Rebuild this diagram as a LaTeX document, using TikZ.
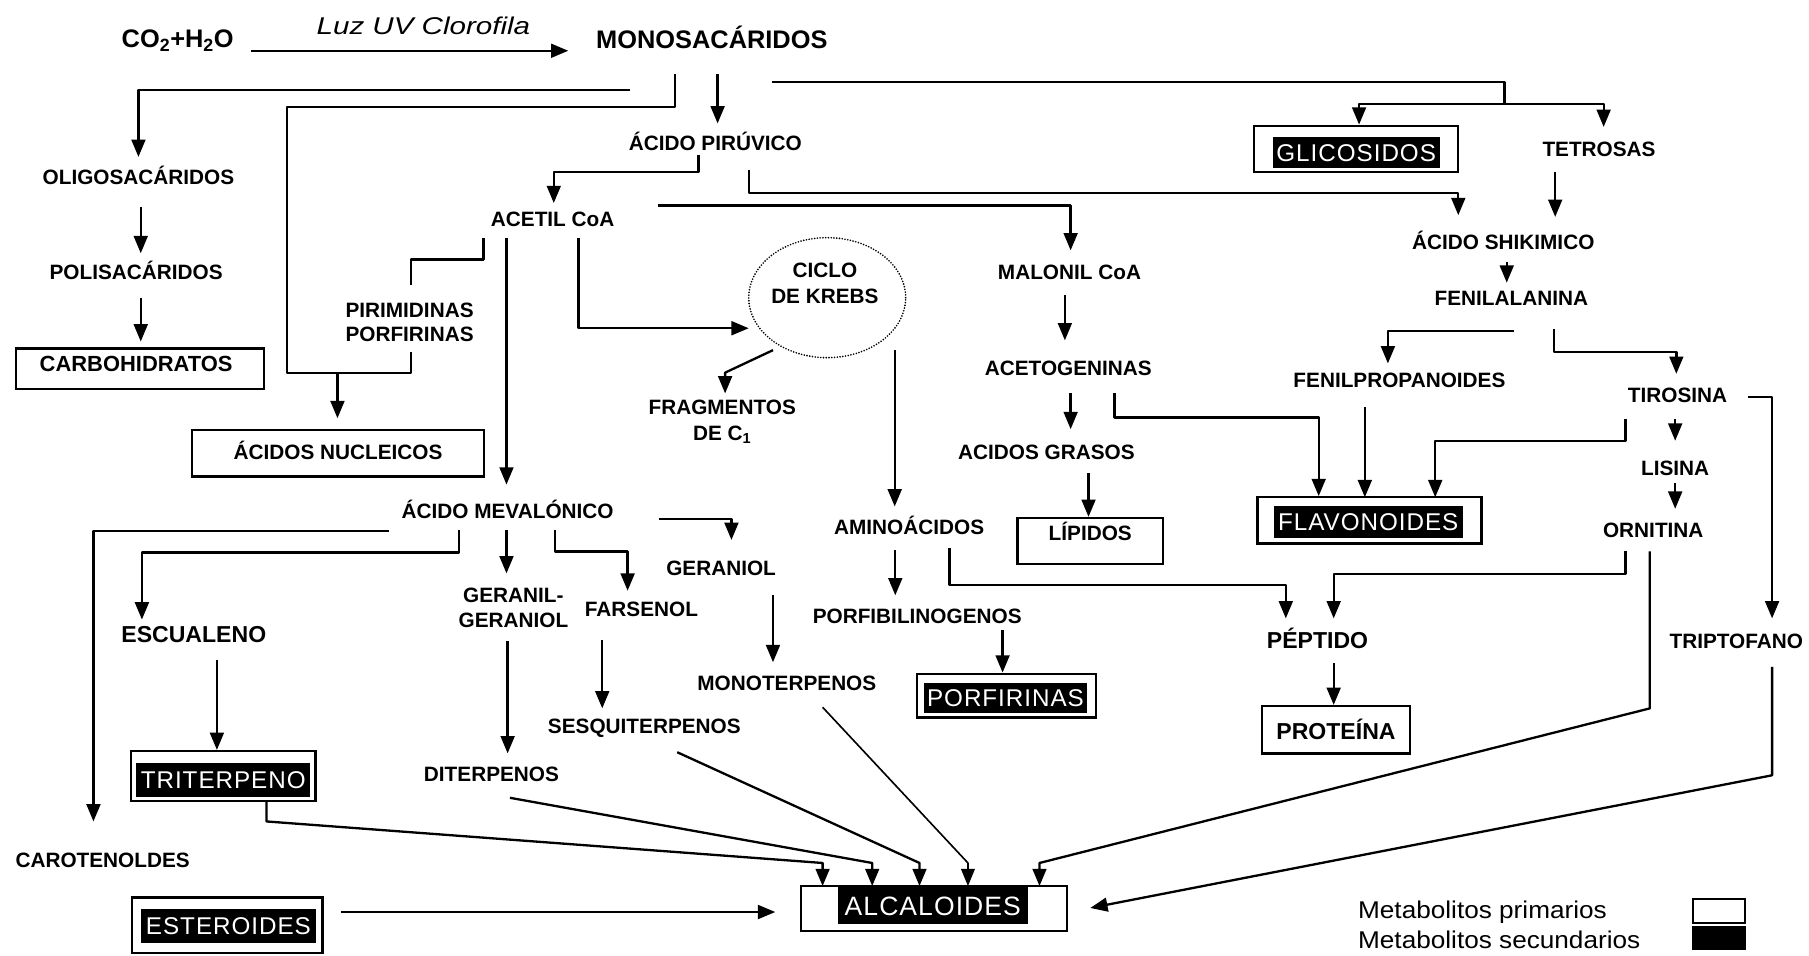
\documentclass[tikz,border=0pt]{standalone}
\usepackage{fontspec}
\usepackage{graphicx}
\setmainfont{Liberation Sans}
\newfontfamily\secf[LetterSpace=4]{Liberation Sans}
\usetikzlibrary{arrows.meta,calc,shapes.geometric}
\newcommand\myfs[1]{\fontsize{#1}{#1}\selectfont}
\begin{document}
\begin{tikzpicture}[x=1pt,y=-1pt,
  lbl/.style={font=\myfs{18}\bfseries, inner sep=0pt, text height=13pt, text depth=0pt, anchor=center},
  lbl2/.style={font=\fontsize{18}{22}\selectfont\bfseries, inner sep=0pt, align=center},
  ln/.style={line width=2pt, line join=round},
  arr/.style={line width=2pt, line join=round, -{Triangle[length=15pt,width=12pt]}},
  pbox/.style={draw, line width=2pt, inner sep=0pt},
  sbox/.style={draw, line width=2pt, inner sep=0pt},
  band/.style={fill=black, text=white, font=\secf\myfs{21}, inner sep=0pt, text height=15pt, text depth=0pt},
]
\fill[white] (0,0) rectangle (1568,828);
\useasboundingbox (0,0) rectangle (1568,828);

% ---------- nodes ----------
\node[lbl, font=\myfs{22}\bfseries, text height=16pt] (co2) at (154,33) {CO\textsubscript{2}+H\textsubscript{2}O};
\node[inner sep=0pt, font=\myfs{21}\itshape, text height=15pt, text depth=0pt] (luz) at (367,22) {\scalebox{1.22}[1]{Luz UV Clorofila}};
\node[lbl, font=\myfs{22}\bfseries, text height=16pt] (mono) at (617,34) {MONOSACÁRIDOS};

\node[lbl] (pir) at (620,124) {ÁCIDO PIRÚVICO};
\node[lbl] (oligo) at (120,153) {OLIGOSACÁRIDOS};
\node[lbl] (poli) at (118,236) {POLISACÁRIDOS};
\node[pbox, minimum width=215pt, minimum height=35pt] (carbo) at (121.5,319.5) {};
\node[lbl, font=\myfs{19}\bfseries, text height=13.6pt] (carbot) at (118,315) {CARBOHIDRATOS};

\node[sbox, minimum width=177pt, minimum height=40pt] (glic) at (1175.5,129) {};
\node[band, minimum width=145pt, minimum height=27pt] (glict) at (1175.5,132.5) {GLICOSIDOS};
\node[lbl] (tetr) at (1386,129) {TETROSAS};

\node[lbl] (acetil) at (479,190) {ACETIL CoA};
\node[lbl] (shik) at (1303,210) {ÁCIDO SHIKIMICO};
\node[lbl] (fenil) at (1310,258) {FENILALANINA};
\node[lbl] (malo) at (927,236) {MALONIL CoA};

\node[draw, ellipse, line width=1.6pt, line cap=round, dash pattern=on 0pt off 2.4pt, minimum width=136pt, minimum height=104pt, inner sep=0pt] (krebs) at (717,258) {};
\node[lbl2, font=\fontsize{18}{23}\selectfont\bfseries] (krebst) at (715,245.5) {CICLO\\DE KREBS};

\node[lbl2, font=\fontsize{18}{21}\selectfont\bfseries] (pirim) at (355,279.5) {PIRIMIDINAS\\PORFIRINAS};
\node[pbox, minimum width=253pt, minimum height=40pt] (nucl) at (293,393) {};
\node[lbl] (nuclt) at (293,392) {ÁCIDOS NUCLEICOS};

\node[lbl2, font=\fontsize{18}{23}\selectfont\bfseries] (frag) at (626,365.5) {FRAGMENTOS\\DE C\textsubscript{1}};

\node[lbl] (aceto) at (926,319) {ACETOGENINAS};
\node[lbl] (grasos) at (907,392) {ACIDOS GRASOS};
\node[pbox, minimum width=126pt, minimum height=40pt] (lip) at (945,469) {};
\node[lbl] (lipt) at (945,462) {LÍPIDOS};

\node[lbl] (fenprop) at (1213,329) {FENILPROPANOIDES};
\node[lbl] (tiro) at (1454,342) {TIROSINA};
\node[lbl] (lisina) at (1452,406) {LISINA};
\node[lbl] (orni) at (1433,459) {ORNITINA};
\node[sbox, minimum width=194pt, minimum height=40pt] (flav) at (1187,451) {};
\node[band, minimum width=164pt, minimum height=27pt] (flavt) at (1186,452.5) {FLAVONOIDES};

\node[lbl] (mev) at (440,443) {ÁCIDO MEVALÓNICO};
\node[lbl] (amino) at (788,457) {AMINOÁCIDOS};
\node[lbl] (geraniol) at (625,492) {GERANIOL};
\node[lbl2] (gergr) at (445,527) {GERANIL-\\GERANIOL};
\node[lbl] (fars) at (556,528) {FARSENOL};
\node[lbl, font=\myfs{20}\bfseries, text height=14.3pt] (escu) at (168,550) {ESCUALENO};
\node[lbl] (porfib) at (795,534) {PORFIBILINOGENOS};
\node[lbl, font=\myfs{20}\bfseries, text height=14.3pt] (pept) at (1142,555) {PÉPTIDO};
\node[lbl] (trip) at (1505,556) {TRIPTOFANO};

\node[sbox, minimum width=155pt, minimum height=38pt] (porfbox) at (872.5,603) {};
\node[band, minimum width=141pt, minimum height=26pt] (porft) at (871.5,605) {PORFIRINAS};
\node[pbox, minimum width=128pt, minimum height=41pt] (prot) at (1158,632.5) {};
\node[lbl, font=\myfs{20}\bfseries, text height=14.3pt] (prott) at (1158,634) {PROTEÍNA};

\node[lbl] (monot) at (682,592) {MONOTERPENOS};
\node[lbl] (sesq) at (558.5,629) {SESQUITERPENOS};
\node[sbox, minimum width=160pt, minimum height=43pt] (trit) at (193.5,672.5) {};
\node[band, minimum width=151pt, minimum height=30pt] (tritt) at (193.5,676) {TRITERPENO};
\node[lbl] (dit) at (426,671) {DITERPENOS};
\node[lbl] (caro) at (89,745) {CAROTENOLDES};
\node[sbox, minimum width=165pt, minimum height=48pt] (ester) at (197,802) {};
\node[band, minimum width=152pt, minimum height=29pt] (estert) at (198,802.5) {ESTEROIDES};
\node[sbox, minimum width=231pt, minimum height=39pt] (alc) at (809.5,787.5) {};
\node[band, font=\secf\myfs{23}, text height=16.5pt, minimum width=165pt, minimum height=32pt] (alct) at (808.5,785) {ALCALOIDES};

% legend
\node[anchor=west, inner sep=0pt, font=\myfs{21}, text height=15pt, text depth=0pt] (leg1) at (1177,789) {\scalebox{1.08}[1]{Metabolitos primarios}};
\node[anchor=west, inner sep=0pt, font=\myfs{21}, text height=15pt, text depth=0pt] (leg2) at (1177,815) {\scalebox{1.08}[1]{Metabolitos secundarios}};
\node[draw, line width=1.6pt, minimum width=45pt, minimum height=21pt, inner sep=0pt] (legp) at (1490,789.5) {};
\node[fill=black, minimum width=46.5pt, minimum height=21pt, inner sep=0pt] (legs) at (1490,813) {};

% ---------- connectors ----------
\draw[arr] ($(co2)+(63.5,11)$) -- ($(mono)+(-124.4,10)$);
\draw[arr] ($(mono)+(-71,44)$) -| ($(oligo)+(0,-17)$);
\draw[ln] ($(mono)+(-32,30)$) |- (249,92.5) |- ($(pirim)+(1,44)$) -- ($(pirim)+(1,25.5)$);
\draw[arr] ($(nucl)+(-0.5,-69.5)$) -- ($(nucl)+(-0.5,-30.5)$);
\draw[arr] ($(mono)+(5,30)$) -- ($(pir)+(2,-17)$);
\draw[ln] ($(mono)+(52,37)$) -| ($(glic)+(128.5,-39)$);
\draw[arr] ($(glic)+(128.5,-39)$) -| ($(glic)+(2.5,-21)$);
\draw[arr] ($(glic)+(128.5,-39)$) -| ($(tetr)+(4,-19)$);

\draw[arr] ($(oligo)+(2,26)$) -- ($(poli)+(4,-16.5)$);
\draw[arr] ($(poli)+(4,22)$) -- ($(carbo)+(0.5,-23.5)$);

\draw[arr] ($(pir)+(-14.5,10)$) |- ($(acetil)+(1,-41)$) -- ($(acetil)+(1,-14)$);
\draw[arr] ($(pir)+(29,23)$) |- ($(shik)+(-39,-43)$) -- ($(shik)+(-39,-23.5)$);
\draw[arr] ($(tetr)+(-38,20)$) -- ($(shik)+(45,-22)$);
\draw[arr] ($(shik)+(3,17)$) -- ($(fenil)+(-4,-13)$);

\draw[arr] ($(acetil)+(91,-12)$) -| ($(malo)+(1,-19)$);
\draw[ln] ($(acetil)+(-60,16.5)$) |- ($(pirim)+(1,-54.5)$) -- ($(pirim)+(1,-32.5)$);
\draw[arr] ($(acetil)+(-40,16)$) -- ($(mev)+(-1,-23)$);
\draw[arr] ($(acetil)+(22.5,16)$) |- ($(krebs)+(-68,26.5)$);
\draw[arr] ($(krebs)+(-47,45.5)$) -- ($(frag)+(2.5,-42.5)$) -- ($(frag)+(2.5,-24.5)$);
\draw[arr] ($(krebs)+(58.5,45.5)$) -- ($(amino)+(-12.5,-18)$);

\draw[arr] ($(malo)+(-4,20)$) -- ($(aceto)+(-3,-24)$);
\draw[arr] ($(aceto)+(2,22)$) -- ($(grasos)+(21,-20)$);
\draw[arr] ($(aceto)+(40,22)$) |- ($(flav)+(-44,-89)$) -- ($(flav)+(-44,-21)$);
\draw[arr] ($(grasos)+(36.5,18)$) -- ($(lip)+(-1.5,-21)$);

\draw[arr] ($(fenil)+(2,29)$) -| ($(fenprop)+(-10,-14)$);
\draw[arr] ($(fenil)+(37,27)$) |- ($(tiro)+(-1,-37)$) -- ($(tiro)+(-1,-18)$);
\draw[arr] ($(fenprop)+(-30,24)$) -- ($(flav)+(-4,-20)$);
\draw[arr] ($(tiro)+(-45,21)$) |- ($(flav)+(57,-69)$) -- ($(flav)+(57,-20)$);
\draw[arr] ($(tiro)+(-2,21)$) -- ($(lisina)+(0,-24)$);
\draw[arr] ($(lisina)+(0,13)$) -- ($(orni)+(19,-18)$);
\draw[arr] ($(tiro)+(61,2)$) -| ($(trip)+(31,-20)$);
\draw[arr] ($(orni)+(-24,19)$) |- ($(pept)+(14,-57.5)$) -- ($(pept)+(14,-19)$);
\draw[arr] ($(amino)+(35,18)$) |- ($(pept)+(-27.5,-48)$) -- ($(pept)+(-27.5,-19)$);
\draw[arr] ($(amino)+(-12,20)$) -- ($(porfib)+(-19,-18)$);
\draw[arr] ($(porfib)+(74,12)$) -- ($(porfbox)+(-3.5,-20)$);
\draw[arr] ($(pept)+(14,20)$) -- ($(prot)+(-2,-21.5)$);

\draw[arr] ($(mev)+(-42,16)$) |- ($(escu)+(-45,-71)$) -- ($(escu)+(-45,-13)$);
\draw[arr] ($(mev)+(-103,17)$) -| ($(caro)+(-8,-33)$);
\draw[arr] ($(mev)+(-1,16)$) -- ($(gergr)+(-6,-30)$);
\draw[arr] ($(mev)+(41,16)$) |- ($(fars)+(-12,-50)$) -- ($(fars)+(-12,-16)$);
\draw[arr] ($(mev)+(131,7)$) -| ($(geraniol)+(9,-24)$);
\draw[arr] ($(gergr)+(-5,29)$) -- ($(dit)+(14,-18)$);
\draw[arr] ($(fars)+(-34,27)$) -- ($(sesq)+(-36.5,-15)$);
\draw[arr] ($(geraniol)+(45,24)$) -- ($(monot)+(-12,-18)$);
\draw[arr] ($(escu)+(20,22)$) -- ($(trit)+(-5.5,-22.5)$);

\draw[arr] ($(trit)+(37.5,21.5)$) -- ($(trit)+(37.5,39.5)$) -- ($(alc)+(-96.5,-39.5)$) -- ($(alc)+(-96.5,-19.5)$);
\draw[arr] ($(dit)+(16,20.5)$) -- ($(alc)+(-53.5,-39.5)$) -- ($(alc)+(-53.5,-19.5)$);
\draw[arr] ($(sesq)+(28.5,23)$) -- ($(alc)+(-12.5,-39.5)$) -- ($(alc)+(-12.5,-19.5)$);
\draw[arr, line width=1.4pt] ($(monot)+(31,21)$) -- ($(alc)+(29.5,-39.5)$) -- ($(alc)+(29.5,-19.5)$);
\draw[arr] ($(orni)+(-3,19)$) -- ($(orni)+(-3,155)$) -- ($(alc)+(91.5,-39.5)$) -- ($(alc)+(91.5,-19.5)$);
\draw[arr] ($(trip)+(31,22)$) -- ($(trip)+(31,116)$) -- ($(alc)+(135.5,-0.5)$);
\draw[arr] ($(ester)+(99,-11.5)$) -- ($(alc)+(-137.5,3)$);
\end{tikzpicture}
\end{document}
